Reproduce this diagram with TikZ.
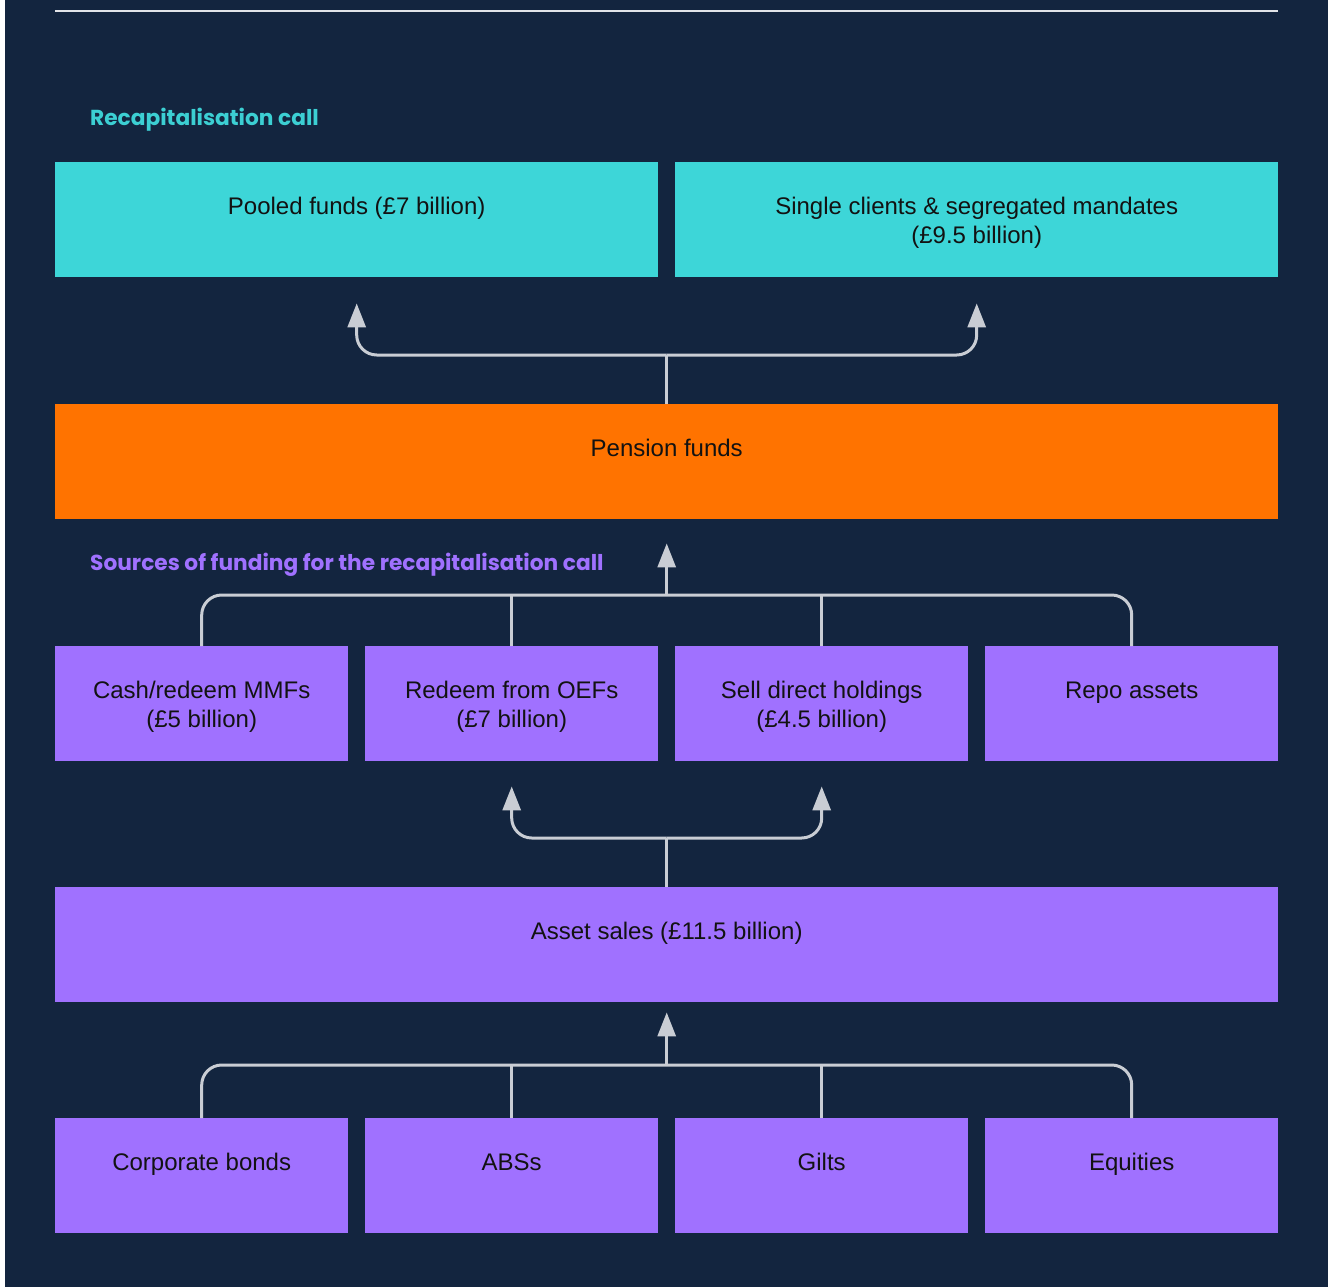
\documentclass[tikz,border=0pt]{standalone}
\usepackage{fontspec}
\setmainfont{Liberation Sans}
\newfontfamily\headfont{Poppins}
\usetikzlibrary{arrows.meta,calc}

\definecolor{navy}{HTML}{13253F}
\definecolor{boxcyan}{HTML}{3DD6D8}
\definecolor{boxorange}{HTML}{FF7300}
\definecolor{boxpurple}{HTML}{A071FF}
\definecolor{headcyan}{HTML}{3CCFD3}
\definecolor{headpurple}{HTML}{A071FF}
\definecolor{linec}{HTML}{C9CDD4}
\definecolor{rulec}{HTML}{E2E4E8}
\definecolor{textc}{HTML}{121212}

\newcommand{\twolines}[2]{\begin{tabular}[t]{@{}c@{}}#1\\#2\end{tabular}}

\tikzset{
  box/.style={rectangle, draw=none, inner xsep=0pt, inner ysep=0pt,
    text height=52pt, text depth=63pt, anchor=north west, text=textc,
    font=\fontsize{24}{29}\selectfont},
  cellbox/.style={box, minimum width=293pt},
  halfbox/.style={box, minimum width=603pt},
  fullbox/.style={box, minimum width=1223pt},
  heading/.style={anchor=base west, inner sep=0pt,
    font=\headfont\bfseries\fontsize{21.7}{26}\selectfont},
  conn/.style={draw=linec, line width=3pt},
  tip/.style={conn, -{Triangle[length=24pt,width=18pt]}},
}

\begin{document}
\begin{tikzpicture}[x=1pt, y=-1pt]
  % canvas
  \fill[white] (0,0) rectangle (1331,1287);
  \fill[navy] (5,0) rectangle (1328,1287);
  \useasboundingbox (0,0) rectangle (1331,1287);
  \draw[rulec, line width=2pt] (55,11) -- (1278,11);

  % headings
  \node[heading, text=headcyan] (headA) at (90,126) {Recapitalisation call};
  \node[heading, text=headpurple] (headB) at (90,570) {Sources of funding for the recapitalisation call};

  % recapitalisation call
  \node[halfbox, fill=boxcyan] (pooled) at (55,162) {Pooled funds (£7 billion)};
  \node[halfbox, fill=boxcyan] (single) at (675,162)
    {\twolines{Single clients \& segregated mandates}{(£9.5 billion)}};

  % pension funds
  \node[fullbox, fill=boxorange] (pension) at (55,404) {Pension funds};

  % sources of funding
  \node[cellbox, fill=boxpurple] (cash) at (55,646) {\twolines{Cash/redeem MMFs}{(£5 billion)}};
  \node[cellbox, fill=boxpurple] (oef)  at (365,646) {\twolines{Redeem from OEFs}{(£7 billion)}};
  \node[cellbox, fill=boxpurple] (sell) at (675,646) {\twolines{Sell direct holdings}{(£4.5 billion)}};
  \node[cellbox, fill=boxpurple] (repo) at (985,646) {Repo assets};

  % asset sales
  \node[fullbox, fill=boxpurple] (assets) at (55,887) {Asset sales (£11.5 billion)};

  % asset classes
  \node[cellbox, fill=boxpurple] (corp)   at (55,1118) {Corporate bonds};
  \node[cellbox, fill=boxpurple] (abs)    at (365,1118) {ABSs};
  \node[cellbox, fill=boxpurple] (gilts)  at (675,1118) {Gilts};
  \node[cellbox, fill=boxpurple] (equity) at (985,1118) {Equities};

  % junctions
  \coordinate (jA) at ($(pension.north)+(0,-49)$);
  \coordinate (jB) at ($(cash.north -| pension.north)+(0,-51)$);
  \coordinate (jC) at ($(assets.north)+(0,-49)$);
  \coordinate (jD) at ($(corp.north -| assets.north)+(0,-53)$);

  % pension funds -> recapitalisation call
  \draw[conn] (pension.north) -- (jA);
  \draw[tip, rounded corners=20pt] (jA) -| ($(pooled.south)+(0,26)$);
  \draw[tip, rounded corners=20pt] (jA) -| ($(single.south)+(0,26)$);

  % sources -> pension funds
  \draw[conn, rounded corners=20pt] (cash.north) |- (jB) -| (repo.north);
  \draw[conn] (oef.north) -- (oef.north |- jB);
  \draw[conn] (sell.north) -- (sell.north |- jB);
  \draw[tip] (jB) -- ($(pension.south)+(0,24)$);

  % asset sales -> sources
  \draw[conn] (assets.north) -- (jC);
  \draw[tip, rounded corners=20pt] (jC) -| ($(oef.south)+(0,25)$);
  \draw[tip, rounded corners=20pt] (jC) -| ($(sell.south)+(0,25)$);

  % asset classes -> asset sales
  \draw[conn, rounded corners=20pt] (corp.north) |- (jD) -| (equity.north);
  \draw[conn] (abs.north) -- (abs.north |- jD);
  \draw[conn] (gilts.north) -- (gilts.north |- jD);
  \draw[tip] (jD) -- ($(assets.south)+(0,10)$);
\end{tikzpicture}
\end{document}
